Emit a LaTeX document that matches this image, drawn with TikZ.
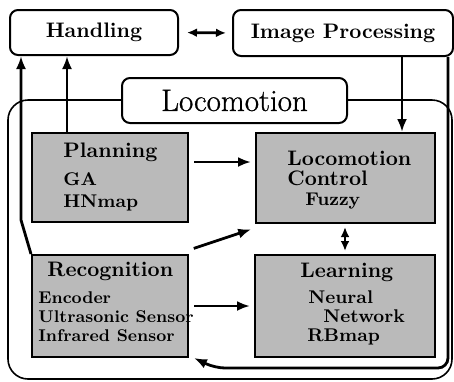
\documentclass[tikz,border=0pt]{standalone}
\usepackage{fontspec}
\newfontfamily\lmfake[FakeBold=0.8]{Latin Modern Roman}
\usetikzlibrary{arrows.meta}
\begin{document}
\begin{tikzpicture}[x=0.5pt,y=-0.5pt,
  topbox/.style={draw, line width=1pt, rounded corners=4pt, inner sep=0pt},
  graybox/.style={draw, line width=1pt, fill=black!27, inner sep=0pt},
  arr/.style={line width=1.4pt, -{Latex[length=6.5pt,width=5pt]}},
  darr/.style={line width=1.4pt, {Latex[length=5pt,width=4.4pt]}-{Latex[length=5pt,width=4.4pt]}},
  ttl/.style={anchor=base west, inner sep=0pt, font=\fontsize{10.5}{12}\selectfont\bfseries},
  sub/.style={anchor=base west, inner sep=0pt, font=\fontsize{9.2}{10}\selectfont\bfseries},
  subs/.style={anchor=base west, inner sep=0pt, font=\fontsize{8.5}{10}\selectfont\bfseries}]
\useasboundingbox (0,0) rectangle (454,381);
% outer container
\draw[line width=0.8pt, rounded corners=10pt] (8,100) rectangle (452,379);
% top boxes
\node[topbox, minimum width=84pt, minimum height=22.5pt,
  font=\fontsize{10.5}{12}\selectfont\bfseries] (hand) at (94,32.5) {Handling};
\node[topbox, minimum width=110pt, minimum height=23pt,
  font=\fontsize{10.5}{12}\selectfont\bfseries] (img) at (343,33) {Image Processing};
\node[topbox, fill=white, minimum width=112.5pt, minimum height=22.5pt,
  font=\fontsize{15.5}{17}\lmfake] (loco) at (234.5,100.5) {Locomotion};
% gray boxes
\node[graybox, minimum width=78pt, minimum height=44.5pt] (plan) at (110,177.5) {};
\node[graybox, minimum width=89.5pt, minimum height=45pt] (lc) at (345.5,178) {};
\node[graybox, minimum width=78pt, minimum height=51pt] (recog) at (110,306) {};
\node[graybox, minimum width=90pt, minimum height=51pt] (learn) at (345,306) {};
% texts
\node[ttl] (t1) at (63,157) {Planning};
\node[sub] (t2) at (63,185) {GA};
\node[sub] (t3) at (63,207) {HNmap};
\node[ttl] (t4) at (287,165) {Locomotion};
\node[ttl] (t5) at (287,185) {Control};
\node[sub] (t6) at (305,205) {Fuzzy};
\node[ttl] (t7) at (47,276) {Recognition};
\node[subs] (t8) at (38,303) {Encoder};
\node[subs] (t9) at (38,322) {Ultrasonic Sensor};
\node[subs] (t10) at (38,341) {Infrared Sensor};
\node[ttl] (t11) at (300,277) {Learning};
\node[sub] (t12) at (308,303) {Neural};
\node[sub] (t13) at (323,322) {Network};
\node[sub] (t14) at (307,341) {RBmap};
% connectors
\draw[darr, shorten <=4pt, shorten >=3pt] (hand.east) -- (img.west);
\draw[arr] (recog.north west) -- (21,220) -- (21,0 |- hand.south);
\draw[arr] (67,0 |- plan.north) -- (67,0 |- hand.south);
\draw[arr] (402,0 |- img.south) -- (402,0 |- lc.north);
\draw[arr, rounded corners=5pt] (448,0 |- img.south) -- (448,368) -- (215,368) -- ([xshift=2.5pt]recog.south east);
\draw[arr, shorten <=2.5pt, shorten >=2pt] (plan.east |- 0,162) -- (lc.west |- 0,162);
\draw[arr, shorten <=2.5pt, shorten >=2pt] ([yshift=2pt]recog.north east) -- ([yshift=-2pt]lc.south west);
\draw[arr, shorten <=2.5pt, shorten >=2pt] (recog.east) -- (learn.west);
\draw[darr, shorten <=1.5pt, shorten >=1.5pt] (345,0 |- lc.south) -- (345,0 |- learn.north);
\end{tikzpicture}
\end{document}
